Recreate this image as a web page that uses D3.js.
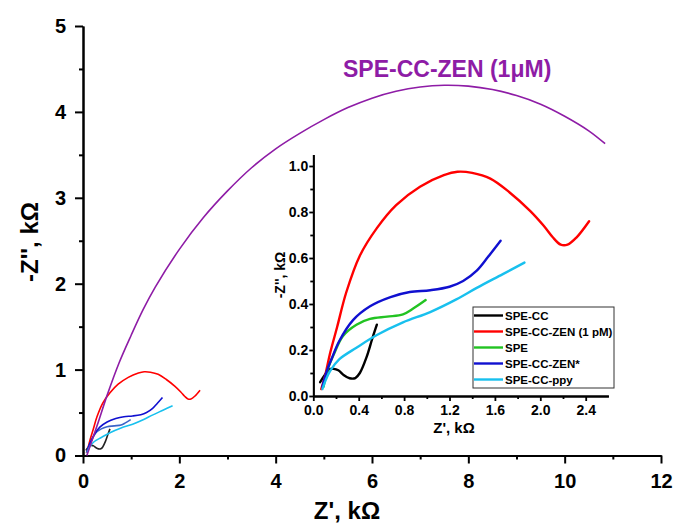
<!DOCTYPE html>
<html>
<head>
<meta charset="utf-8">
<script src="https://cdn.jsdelivr.net/npm/d3@7"></script>
<style>
  html, body { margin: 0; padding: 0; background: #fff; }
  svg { display: block; font-family: Arial, "Liberation Sans", sans-serif; }
  .axis path, .axis line { stroke: #000; }
  .axis text { fill: #000; font-weight: bold; }
</style>
</head>
<body>
<svg id="chart" width="678" height="523"></svg>
<script>
// Nyquist data, [Z' (kΩ), -Z'' (kΩ)]
const speCC = [[0.06,0.06],[0.10,0.09],[0.14,0.115],[0.18,0.118],[0.22,0.112],[0.27,0.09],[0.32,0.077],[0.37,0.078],[0.41,0.10],[0.47,0.17],[0.52,0.25],[0.56,0.31]];
const speCCZen1pM = [[0.07,0.03],[0.10,0.08],[0.15,0.19],[0.21,0.30],[0.29,0.45],[0.41,0.61],[0.56,0.73],[0.73,0.83],[0.94,0.91],[1.15,0.96],[1.27,0.975],[1.40,0.97],[1.56,0.945],[1.73,0.885],[1.91,0.805],[2.03,0.74],[2.11,0.69],[2.18,0.658],[2.24,0.658],[2.32,0.69],[2.43,0.76]];
const spe = [[0.09,0.04],[0.13,0.12],[0.18,0.18],[0.26,0.26],[0.38,0.31],[0.50,0.335],[0.65,0.345],[0.79,0.355],[0.88,0.38],[0.99,0.417]];
const speCCZenStar = [[0.08,0.04],[0.12,0.11],[0.16,0.16],[0.23,0.24],[0.35,0.33],[0.50,0.39],[0.68,0.43],[0.85,0.452],[1.03,0.46],[1.20,0.475],[1.32,0.50],[1.44,0.545],[1.54,0.605],[1.65,0.675]];
const speCCppy = [[0.08,0.03],[0.11,0.07],[0.15,0.11],[0.23,0.16],[0.38,0.21],[0.56,0.265],[0.79,0.32],[1.03,0.365],[1.26,0.42],[1.44,0.47],[1.67,0.53],[1.86,0.58]];
const speCCZen1uM = [[0.08,0.0],[0.30,0.36],[0.50,0.70],[0.75,1.08],[1.00,1.40],[1.25,1.70],[1.50,1.96],[2.00,2.40],[2.50,2.77],[3.00,3.08],[3.50,3.35],[4.00,3.57],[4.50,3.75],[5.00,3.91],[5.50,4.05],[6.00,4.16],[6.50,4.24],[7.00,4.29],[7.50,4.31],[8.00,4.30],[8.50,4.26],[9.00,4.19],[9.50,4.09],[10.00,3.95],[10.50,3.78],[10.84,3.63]];

const legendLabels = ["SPE-CC", "SPE-CC-ZEN (1 pM)", "SPE", "SPE-CC-ZEN*", "SPE-CC-ppy"];
const seriesColors = ["#000000", "#ff0000", "#22c322", "#1010d0", "#18c0ee"];
const mainColors   = ["#222222", "#ff0000", "#3a64c8", "#1010d0", "#18c0ee"];
const bigSeriesLabel = "SPE-CC-ZEN (1μM)";
const bigSeriesColor = "#8e1ca6";

const mainXTicks = [0, 2, 4, 6, 8, 10, 12];
const mainXMinor = [1, 3, 5, 7, 9, 11];
const mainYTicks = [0, 1, 2, 3, 4, 5];
const mainYMinor = [0.5, 1.5, 2.5, 3.5, 4.5];
const insetXTicks = [0, 0.4, 0.8, 1.2, 1.6, 2.0, 2.4];
const insetXMinor = [0.2, 0.6, 1.0, 1.4, 1.8, 2.2];
const insetYTicks = [0, 0.2, 0.4, 0.6, 0.8, 1.0];
const insetYMinor = [0.1, 0.3, 0.5, 0.7, 0.9];

const smallSeries = [speCC, speCCZen1pM, spe, speCCZenStar, speCCppy];

const svg = d3.select("#chart");

// ---------- main plot ----------
const x = d3.scaleLinear().domain([0, 12]).range([83, 661]);
const y = d3.scaleLinear().domain([0, 5]).range([455.5, 26]);

function styleAxis(g, size, width) {
  g.attr("class", "axis");
  g.select(".domain").attr("stroke-width", width);
  g.selectAll(".tick line").attr("stroke-width", width);
  g.selectAll("text").style("font-size", size + "px");
}

const fmtInt = d3.format("d");
svg.append("g").attr("transform", `translate(0,${y(0)})`)
  .call(d3.axisBottom(x).tickValues(mainXMinor).tickSize(4).tickSizeOuter(0).tickFormat(""))
  .call(g => styleAxis(g, 20, 2));
svg.append("g").attr("transform", `translate(0,${y(0)})`)
  .call(d3.axisBottom(x).tickValues(mainXTicks).tickSize(8).tickSizeOuter(0).tickPadding(10).tickFormat(fmtInt))
  .call(g => styleAxis(g, 20, 2));
svg.append("g").attr("transform", `translate(${x(0)},0)`)
  .call(d3.axisLeft(y).tickValues(mainYMinor).tickSize(4).tickSizeOuter(0).tickFormat(""))
  .call(g => styleAxis(g, 20, 2));
svg.append("g").attr("transform", `translate(${x(0)},0)`)
  .call(d3.axisLeft(y).tickValues(mainYTicks).tickSize(8).tickSizeOuter(0).tickPadding(9).tickFormat(fmtInt))
  .call(g => styleAxis(g, 20, 2));

svg.append("text")
  .attr("x", 347).attr("y", 519)
  .attr("text-anchor", "middle")
  .style("font-size", "24px").style("font-weight", "bold")
  .text("Z', kΩ");
svg.append("text")
  .attr("transform", "translate(38,242) rotate(-90)")
  .attr("text-anchor", "middle")
  .style("font-size", "24px").style("font-weight", "bold")
  .text("-Z'', kΩ");

const lineMain = d3.line().x(d => x(d[0])).y(d => y(d[1])).curve(d3.curveCatmullRom.alpha(0.5));

smallSeries.forEach((s, i) => {
  svg.append("path").datum(s)
    .attr("d", lineMain).attr("fill", "none")
    .attr("stroke", mainColors[i]).attr("stroke-width", 1.6);
});
svg.append("path").datum(speCCZen1uM)
  .attr("d", lineMain).attr("fill", "none")
  .attr("stroke", bigSeriesColor).attr("stroke-width", 1.6);

svg.append("text")
  .attr("x", 343).attr("y", 77)
  .style("font-size", "23px").style("font-weight", "bold")
  .attr("fill", bigSeriesColor)
  .text(bigSeriesLabel);

// ---------- inset ----------
const xi = d3.scaleLinear().domain([0, 2.6]).range([313.3, 608.4]);
const yi = d3.scaleLinear().domain([0, 1.05]).range([396, 154.5]);

const fmt1 = d3.format(".1f");
svg.append("g").attr("transform", `translate(0,${yi(0)})`)
  .call(d3.axisBottom(xi).tickValues(insetXMinor).tickSize(3).tickSizeOuter(0).tickFormat(""))
  .call(g => styleAxis(g, 14, 1.8));
svg.append("g").attr("transform", `translate(0,${yi(0)})`)
  .call(d3.axisBottom(xi).tickValues(insetXTicks).tickSize(5).tickSizeOuter(0).tickPadding(4).tickFormat(fmt1))
  .call(g => styleAxis(g, 14, 1.8));
svg.append("g").attr("transform", `translate(${xi(0)},0)`)
  .call(d3.axisLeft(yi).tickValues(insetYMinor).tickSize(3).tickSizeOuter(0).tickFormat(""))
  .call(g => styleAxis(g, 14, 1.8));
svg.append("g").attr("transform", `translate(${xi(0)},0)`)
  .call(d3.axisLeft(yi).tickValues(insetYTicks).tickSize(4).tickSizeOuter(0).tickPadding(1).tickFormat(fmt1))
  .call(g => styleAxis(g, 14, 1.8));

svg.append("text")
  .attr("x", 454).attr("y", 433)
  .attr("text-anchor", "middle")
  .style("font-size", "15px").style("font-weight", "bold")
  .text("Z', kΩ");
svg.append("text")
  .attr("transform", "translate(285,275) rotate(-90)")
  .attr("text-anchor", "middle")
  .style("font-size", "14px").style("font-weight", "bold")
  .text("-Z'', kΩ");

const lineInset = d3.line().x(d => xi(d[0])).y(d => yi(d[1])).curve(d3.curveCatmullRom.alpha(0.5));
smallSeries.forEach((s, i) => {
  svg.append("path").datum(s)
    .attr("d", lineInset).attr("fill", "none")
    .attr("stroke", seriesColors[i]).attr("stroke-width", 2.4)
    .attr("stroke-linejoin", "round").attr("stroke-linecap", "round");
});

// legend
const lg = svg.append("g").attr("transform", "translate(473,307)");
lg.append("rect").attr("width", 141).attr("height", 81)
  .attr("fill", "#fff").attr("stroke", "#333").attr("stroke-width", 1);
legendLabels.forEach((lab, i) => {
  const ly = 8.5 + i * 16;
  lg.append("line").attr("x1", 1).attr("x2", 30).attr("y1", ly).attr("y2", ly)
    .attr("stroke", seriesColors[i]).attr("stroke-width", 2.4);
  lg.append("text").attr("x", 32).attr("y", ly + 4)
    .style("font-size", "11.5px").style("font-weight", "bold")
    .text(lab);
});
</script>
</body>
</html>
